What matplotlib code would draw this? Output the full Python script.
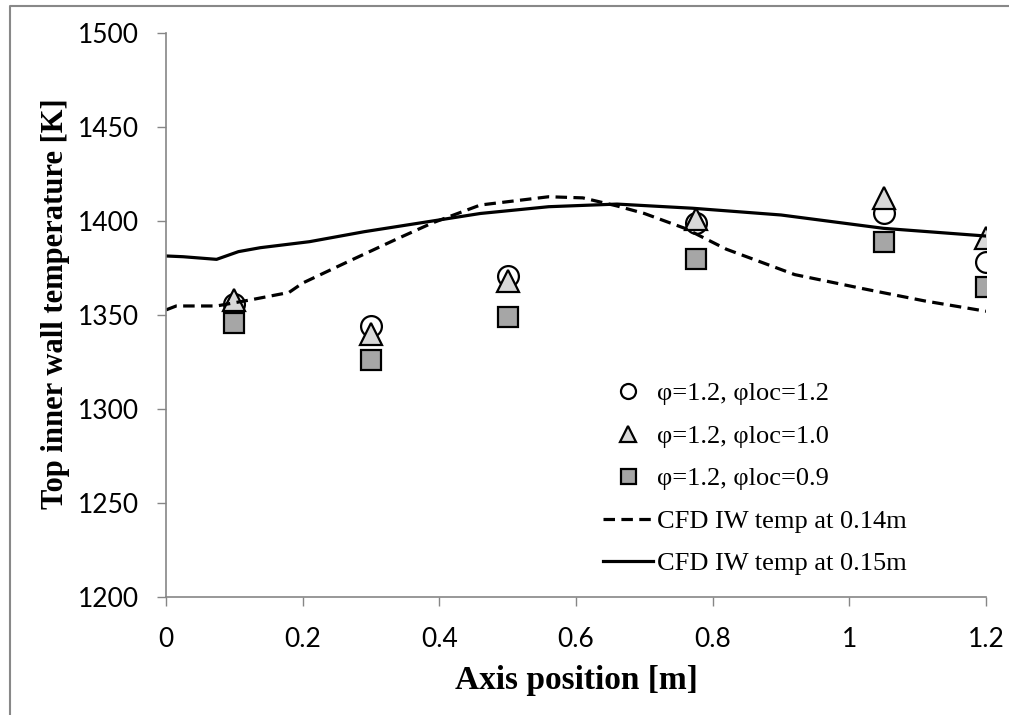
import numpy as np
import matplotlib
matplotlib.use("Agg")
import matplotlib.pyplot as plt
from matplotlib.lines import Line2D

# measured points
x_meas = [0.1, 0.3, 0.5, 0.775, 1.05, 1.2]
t_loc12 = [1356, 1344, 1371, 1399, 1404, 1378]
t_loc10 = [1358, 1340, 1368, 1401, 1412, 1391]
t_loc09 = [1346, 1326, 1349, 1380, 1389, 1365]

# CFD inner wall temperature, 0.14m
x_cfd14 = [0, 0.015, 0.074, 0.123, 0.18, 0.2, 0.27, 0.34, 0.39, 0.46, 0.56, 0.61,
           0.66, 0.70, 0.76, 0.82, 0.92, 1.02, 1.11, 1.2]
t_cfd14 = [1352.7, 1354.8, 1354.8, 1358, 1362, 1367, 1379, 1390.8, 1399, 1408.5, 1412.9, 1412.3,
           1408, 1404, 1396, 1385, 1371.5, 1364, 1357.5, 1352]

# CFD inner wall temperature, 0.15m
x_cfd15 = [0, 0.025, 0.074, 0.106, 0.138, 0.21, 0.29, 0.39, 0.46, 0.56, 0.66, 0.77, 0.90, 1.05, 1.2]
t_cfd15 = [1381.4, 1381, 1379.6, 1383.7, 1385.8, 1389, 1394.3, 1400, 1404, 1407.6, 1409, 1406.8,
           1403.2, 1396.1, 1392]

labels = ["\u03c6=1.2, \u03c6loc=1.2", "\u03c6=1.2, \u03c6loc=1.0", "\u03c6=1.2, \u03c6loc=0.9",
          "CFD IW temp at 0.14m", "CFD IW temp at 0.15m"]
xticks = [0, 0.2, 0.4, 0.6, 0.8, 1, 1.2]
xticklabels = ["0", "0.2", "0.4", "0.6", "0.8", "1", "1.2"]
yticks = [1200, 1250, 1300, 1350, 1400, 1450, 1500]

W, H = 1009, 715
fig = plt.figure(figsize=(W / 100, H / 100), dpi=100)
ax = fig.add_axes([166 / W, 1 - 597 / H, (986 - 166) / W, (597 - 33) / H])

ms = 15
ax.plot(x_meas, t_loc12, "o", ms=ms, mfc="white", mec="black", mew=1.6, label=labels[0])
ax.plot(x_meas, t_loc10, "^", ms=ms + 1, mfc="#d9d9d9", mec="black", mew=1.6, label=labels[1])
ax.plot(x_meas, t_loc09, "s", ms=ms, mfc="#a6a6a6", mec="black", mew=1.6, label=labels[2])
ax.plot(x_cfd14, t_cfd14, color="black", lw=2.3, ls=(0, (3.6, 2)), label=labels[3])
ax.plot(x_cfd15, t_cfd15, color="black", lw=2.3, label=labels[4])

ax.set_xlim(0, 1.2)
ax.set_ylim(1200, 1500)
ax.set_xticks(xticks)
ax.set_xticklabels(xticklabels)
ax.set_yticks(yticks)

for s in ["top", "right"]:
    ax.spines[s].set_visible(False)
for s in ["left", "bottom"]:
    ax.spines[s].set_color("#868686")
    ax.spines[s].set_linewidth(1.2)

ax.tick_params(axis="both", direction="out", length=6.5, width=1, color="#868686",
               labelsize=19, pad=13)
ax.tick_params(axis="x", pad=15)
for lab in ax.get_xticklabels() + ax.get_yticklabels():
    lab.set_family(["Lato", "DejaVu Sans"])

fig.text(576 / W, 1 - 689 / H, "Axis position [m]", ha="center", va="baseline",
         family="Liberation Serif", fontweight="bold", fontsize=24)
fig.text(56 / W, 1 - 304 / H, "Top inner wall temperature [K]", ha="center", va="center",
         rotation=90, family="Liberation Serif", fontweight="bold", fontsize=22)

leg = ax.legend(loc="upper left", bbox_to_anchor=(603 / W, 1 - 382 / H),
                bbox_transform=fig.transFigure, frameon=False, borderpad=0, borderaxespad=0,
                prop={"family": "Liberation Serif", "size": 19}, handlelength=1.9,
                handletextpad=0.15, labelspacing=0.72, markerscale=0.72)

# outer frame (top and left edges visible)
fig.add_artist(Line2D([10 / W, 10 / W, 1], [0, 1 - 6 / H, 1 - 6 / H],
                      transform=fig.transFigure, color="#888888", lw=1.5))

fig.savefig("out.png", dpi=100)
